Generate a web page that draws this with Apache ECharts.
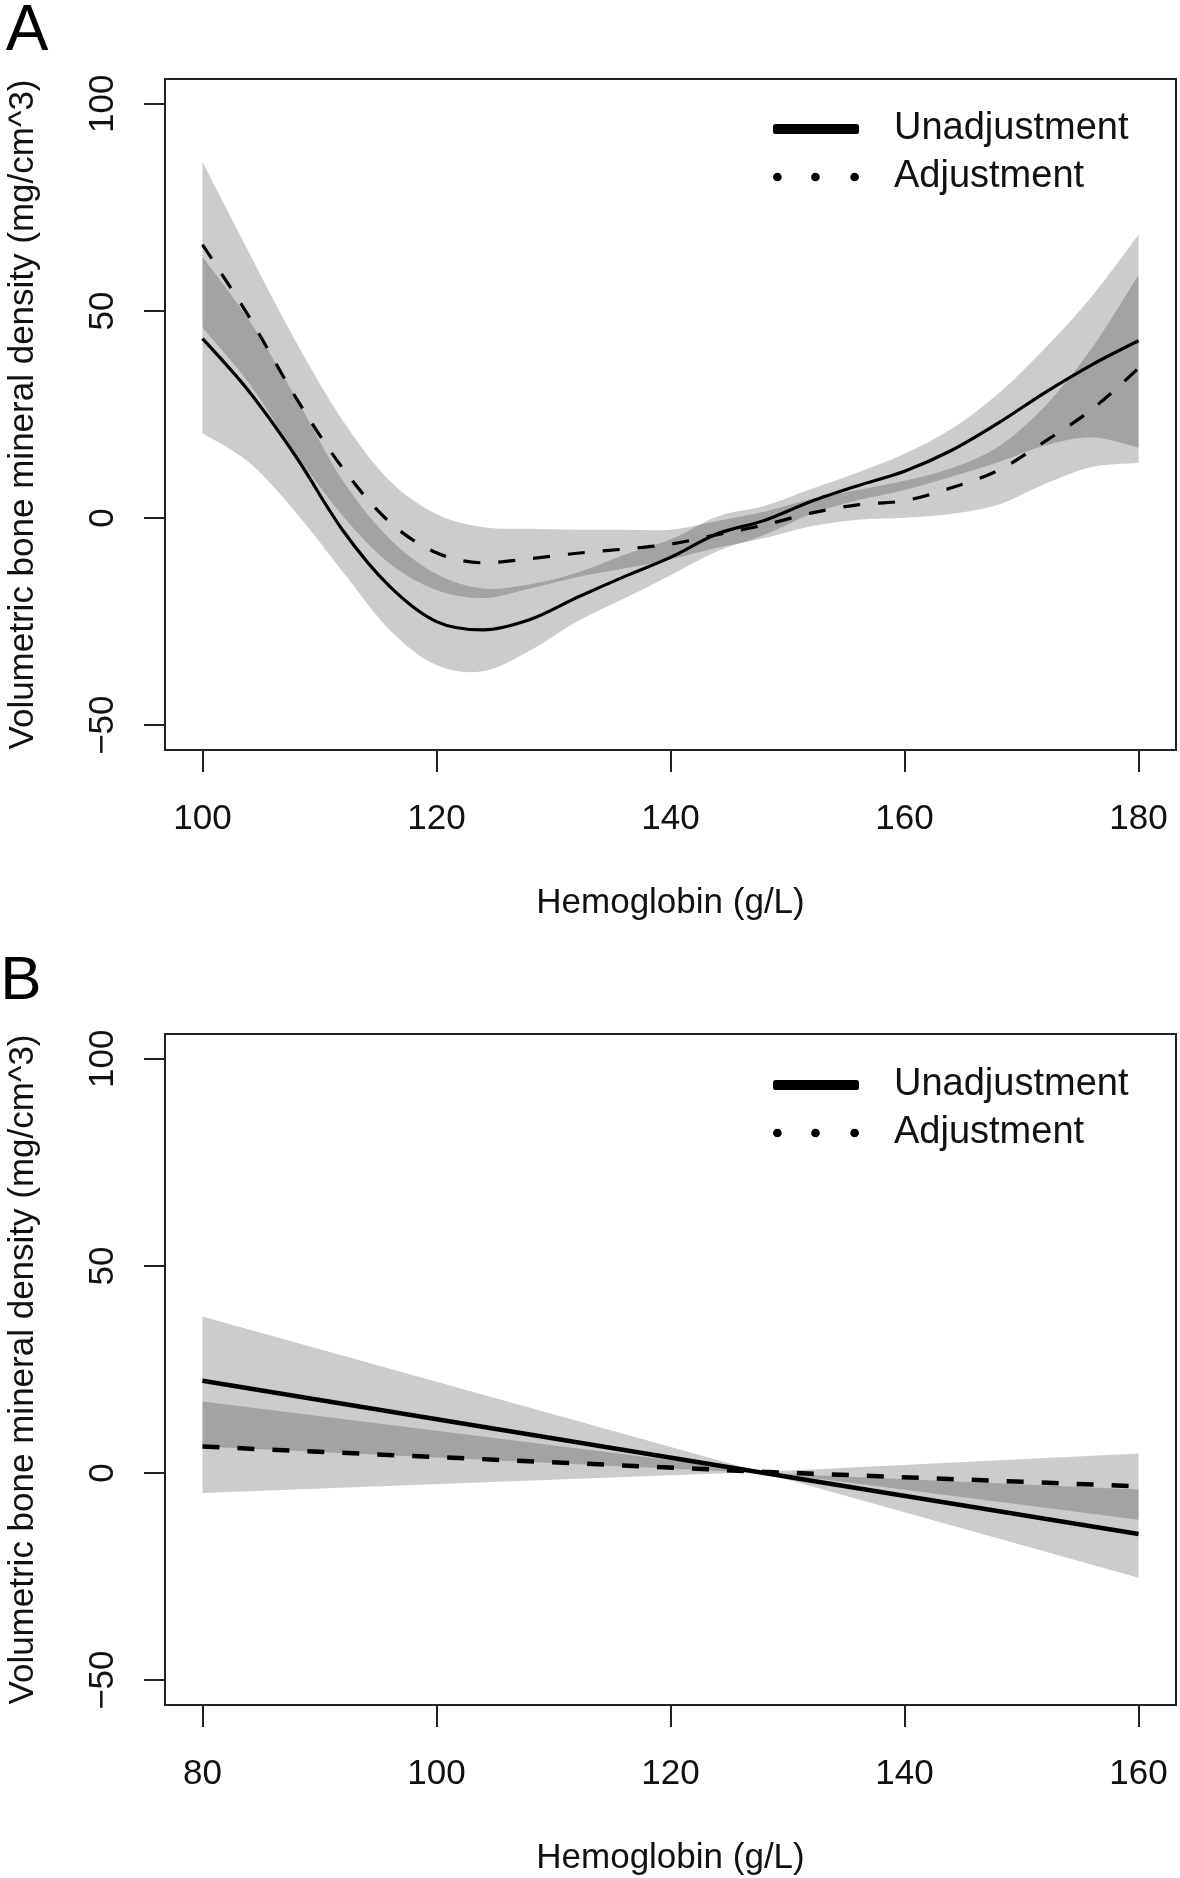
<!DOCTYPE html>
<html>
<head>
	<meta charset="utf-8">
	<script src="https://cdn.jsdelivr.net/npm/echarts@6/dist/echarts.min.js"></script>
</head>
<body style="margin:0;background:#fff">
	<div id="main" style="width: 1180px; height: 1878px;"></div>
<script type="text/javascript">
// Panel A - spline fit, hemoglobin 100-180 g/L
var hbA = [100, 104, 108, 112, 116, 120, 124, 128, 132, 136, 140, 144, 148, 152, 156, 160, 164, 168, 172, 176, 180];
var unadjA = [43.3, 30.5, 14.8, -3, -16.5, -25, -27, -24.5, -19.2, -14.2, -9.5, -3.8, -0.6, 4.0, 7.8, 11.3, 16.3, 22.9, 30.3, 37.0, 42.8];
var unadjLowA = [20.5, 13.4, 1.3, -13, -27, -35.5, -37, -32, -25, -19.5, -13.8, -8, -4.1, 1.0, 4.3, 6.8, 10, 13.5, 17.5, 19.5, 17];
var unadjUpA = [63.1, 47.7, 29, 9, -5, -13.5, -17, -16, -13.2, -8.9, -5.2, 0.4, 2.9, 7.0, 11.0, 15.5, 21.5, 30, 41, 53.5, 68.4];
var adjA = [66, 48.5, 29, 12, -1, -8.4, -10.8, -9.8, -8.5, -7.5, -6.3, -4.0, -1.7, 1.2, 3.2, 4.2, 7.3, 11.5, 18.5, 26.2, 36.2];
var adjLowA = [46, 32.5, 15.5, 0.5, -11, -17.4, -19.3, -17, -14.3, -12.2, -10, -7.2, -4.9, -2, -0.4, 0.1, 1.0, 3.2, 8.2, 12.3, 13.3];
var adjUpA = [86, 64, 42.5, 23.5, 9, 1, -2.2, -2.6, -2.8, -2.8, -2.8, -0.7, 1.5, 4.6, 6.8, 9, 12, 17.2, 27, 41, 58.7];

// Panel B - linear fit, hemoglobin 80-160 g/L
var hbB = [80, 128, 160];
var unadjB = [22.3, 0, -14.7];
var unadjLowB = [6.4, 0, -25.3];
var unadjUpB = [37.8, 0, -4.0];
var adjB = [6.4, 0.3, -3.2];
var adjLowB = [-4.8, 0.3, -11.3];
var adjUpB = [17.3, 0.3, 4.7];

var yTicks = [-50, 0, 50, 100];
var xTicksA = [100, 120, 140, 160, 180];
var xTicksB = [80, 100, 120, 140, 160];

var font = '"Liberation Sans", Arial, Helvetica, sans-serif';
var ink = '#111';

var myChart = echarts.init(document.getElementById('main'));

function pairs(xs, ys) {
	return xs.map(function (x, i) { return [x, ys[i]]; });
}

function minus(v) {
	return String(v).replace('-', '\u2212');
}

// catmull-rom through pixel points, as svg path commands
function curve(pts, start) {
	var d = start + pts[0][0] + ',' + pts[0][1];
	var n = pts.length;
	for (var i = 0; i < n - 1; i++) {
		var p0 = pts[Math.max(i - 1, 0)], p1 = pts[i], p2 = pts[i + 1], p3 = pts[Math.min(i + 2, n - 1)];
		d += 'C' + (p1[0] + (p2[0] - p0[0]) / 6) + ',' + (p1[1] + (p2[1] - p0[1]) / 6) + ','
			+ (p2[0] - (p3[0] - p1[0]) / 6) + ',' + (p2[1] - (p3[1] - p1[1]) / 6) + ','
			+ p2[0] + ',' + p2[1];
	}
	return d;
}

function straight(pts, start) {
	return pts.map(function (p, i) { return (i ? 'L' : start) + p[0] + ',' + p[1]; }).join('');
}

function band(g, xs, lo, hi, smooth) {
	return {
		type: 'custom',
		xAxisIndex: g,
		yAxisIndex: g,
		silent: true,
		z: 1,
		data: [[xs[0], lo[0]]],
		renderItem: function (params, api) {
			var top = xs.map(function (x, i) { return api.coord([x, hi[i]]); });
			var bot = xs.map(function (x, i) { return api.coord([x, lo[i]]); }).reverse();
			var draw = smooth ? curve : straight;
			return {
				type: 'path',
				shape: { pathData: draw(top, 'M') + draw(bot, 'L') + 'Z' },
				style: { fill: 'rgba(0,0,0,0.2)', stroke: null }
			};
		}
	};
}

function line(name, g, xs, ys, dashed, width, smooth) {
	return {
		type: 'line',
		name: name,
		xAxisIndex: g,
		yAxisIndex: g,
		data: pairs(xs, ys),
		smooth: smooth,
		symbol: 'none',
		silent: true,
		z: 3,
		emphasis: { disabled: true },
		itemStyle: { color: '#000' },
		lineStyle: { color: '#000', width: width, type: dashed ? [17, 18] : 'solid' }
	};
}

function xAxis(g, min, max, ticks) {
	return {
		type: 'value', gridIndex: g, min: min, max: max,
		name: 'Hemoglobin (g/L)', nameLocation: 'middle', nameGap: 136,
		nameTextStyle: { fontSize: 35, color: ink, fontFamily: font },
		axisLine: { show: false, onZero: false },
		axisTick: { show: true, customValues: ticks, length: 22, lineStyle: { color: '#222', width: 2 } },
		axisLabel: { customValues: ticks, margin: 52, fontSize: 35, color: ink, fontFamily: font, formatter: minus },
		splitLine: { show: false }
	};
}

function yAxis(g) {
	return {
		type: 'value', gridIndex: g, min: -56, max: 106,
		name: 'Volumetric bone mineral density (mg/cm^3)', nameLocation: 'middle', nameGap: 124, nameRotate: 90,
		nameTextStyle: { fontSize: 35, color: ink, fontFamily: font },
		axisLine: { show: false, onZero: false },
		axisTick: { show: true, customValues: yTicks, length: 21, lineStyle: { color: '#222', width: 2 } },
		axisLabel: { customValues: yTicks, rotate: 90, margin: 44, fontSize: 35, color: ink, fontFamily: font, formatter: minus },
		splitLine: { show: false }
	};
}

var dotIcon = 'path://M0,4a4,4 0 1,0 8,0a4,4 0 1,0 -8,0M35,4a4,4 0 1,0 8,0a4,4 0 1,0 -8,0M71,4a4,4 0 1,0 8,0a4,4 0 1,0 -8,0';

function legend(top) {
	return {
		left: 773, top: top, orient: 'vertical', padding: 0,
		itemWidth: 86, itemHeight: 10, itemGap: 8, selectedMode: false,
		itemStyle: { borderWidth: 0 },
		data: [{ name: 'Unadjustment', icon: 'roundRect' }, { name: 'Adjustment', icon: dotIcon }],
		textStyle: { fontSize: 38, color: ink, fontFamily: font, lineHeight: 40, padding: [0, 0, 0, 30] }
	};
}

var option = {
	backgroundColor: '#fff',
	animation: false,
	graphic: [
		{ type: 'text', x: 27, y: 32, style: { text: 'A', fontSize: 64, fontFamily: font, fill: '#000', align: 'center', verticalAlign: 'middle' } },
		{ type: 'text', x: 21, y: 982, style: { text: 'B', fontSize: 62, fontFamily: font, fill: '#000', align: 'center', verticalAlign: 'middle' } }
	],
	grid: [
		{ left: 165, top: 79, width: 1011, height: 671, show: true, borderColor: '#222', borderWidth: 2, backgroundColor: 'transparent', outerBoundsMode: 'none' },
		{ left: 165, top: 1034, width: 1011, height: 671, show: true, borderColor: '#222', borderWidth: 2, backgroundColor: 'transparent', outerBoundsMode: 'none' }
	],
	legend: [legend(109), legend(1065)],
	xAxis: [xAxis(0, 96.8, 183.2, xTicksA), xAxis(1, 76.8, 163.2, xTicksB)],
	yAxis: [yAxis(0), yAxis(1)],
	series: [
		band(0, hbA, unadjLowA, unadjUpA, true),
		band(0, hbA, adjLowA, adjUpA, true),
		line('Unadjustment', 0, hbA, unadjA, false, 3.2, 0.33),
		line('Adjustment', 0, hbA, adjA, true, 3.2, 0.33),
		band(1, hbB, unadjLowB, unadjUpB, false),
		band(1, hbB, adjLowB, adjUpB, false),
		line('Unadjustment', 1, hbB, unadjB, false, 4.5, false),
		line('Adjustment', 1, hbB, adjB, true, 4.5, false)
	]
};

myChart.setOption(option);
</script>
</body>
</html>
